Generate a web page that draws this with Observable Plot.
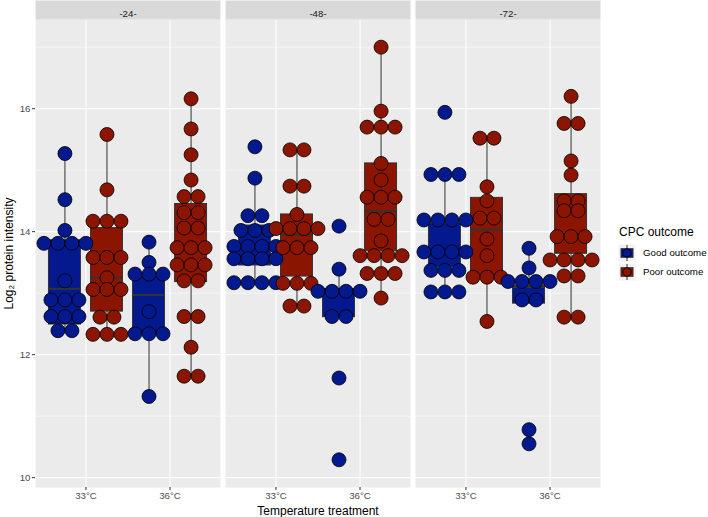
<!DOCTYPE html>
<html><head><meta charset="utf-8">
<script src="https://cdn.jsdelivr.net/npm/d3@7"></script>
<script src="https://cdn.jsdelivr.net/npm/@observablehq/plot@0.6"></script>
<style>
body{margin:0;background:#fff;}
#wrap{position:relative;width:708px;height:517px;font-family:"Liberation Sans",Arial,sans-serif;}
#legend{position:absolute;left:0;top:0;}
</style></head><body><div id="wrap"></div>
<script>
// ---------- categories ----------
const timepoints = ["-24-", "-48-", "-72-"];
const temps = ["33°C", "36°C"];
const outcomes = ["Good outcome", "Poor outcome"];
const colors = ["#03198D", "#8B1500"];
const yTicks = [10, 12, 14, 16];
const yMinor = [11, 13, 15, 17];

// ---------- dot values (log2 protein intensity, dot centres) ----------
const good24_33 = [15.27, 14.52, 14.02, 13.81, 13.81, 13.81, 13.81, 13.20, 12.89, 12.89, 12.89, 12.62, 12.62, 12.62, 12.39, 12.39];
const poor24_33 = [15.58, 14.68, 14.17, 14.17, 14.17, 13.58, 13.58, 13.58, 13.25, 13.06, 13.06, 13.06, 12.61, 12.61, 12.33, 12.33, 12.33];
const good24_36 = [13.83, 13.50, 13.31, 13.31, 13.31, 12.70, 12.34, 12.34, 12.34, 11.32];
const poor24_36 = [16.16, 15.67, 15.25, 14.84, 14.57, 14.57, 14.31, 14.31, 14.06, 14.06, 13.74, 13.74, 13.74, 13.46, 13.46, 13.46, 13.20, 13.20, 12.62, 12.62, 12.12, 11.65, 11.65];

const good48_33 = [15.38, 14.87, 14.26, 14.26, 14.02, 14.02, 14.02, 13.76, 13.76, 13.76, 13.76, 13.56, 13.56, 13.56, 13.56, 13.17, 13.17, 13.17, 13.17];
const poor48_33 = [15.33, 15.33, 14.74, 14.74, 14.28, 14.05, 14.05, 14.05, 14.05, 13.74, 13.74, 13.74, 13.16, 13.16, 13.16, 12.79, 12.79];
const good48_36 = [14.09, 13.39, 13.03, 13.03, 13.03, 13.03, 12.62, 12.62, 11.62, 10.29];
const poor48_36 = [17.00, 15.96, 15.70, 15.70, 15.70, 15.11, 14.84, 14.56, 14.56, 14.56, 14.20, 14.20, 13.85, 13.61, 13.61, 13.61, 13.61, 13.32, 13.32, 13.32, 12.92];

const good72_33 = [15.94, 14.93, 14.93, 14.93, 14.19, 14.19, 14.19, 14.19, 13.67, 13.67, 13.67, 13.67, 13.37, 13.37, 13.37, 13.02, 13.02, 13.02];
const poor72_33 = [15.52, 15.52, 14.73, 14.50, 14.22, 14.22, 13.88, 13.61, 13.26, 13.26, 13.26, 12.54];
const good72_36 = [13.73, 13.41, 13.19, 13.19, 13.19, 13.19, 12.89, 12.89, 10.78, 10.55];
const poor72_36 = [16.20, 15.76, 15.76, 15.15, 14.92, 14.50, 14.50, 14.34, 14.34, 13.92, 13.92, 13.92, 13.54, 13.54, 13.54, 13.54, 13.28, 13.28, 12.61, 12.61];

// ---------- box statistics: [lower whisker, Q1, median, Q3, upper whisker] ----------
const boxGood24_33 = [12.39, 12.49, 13.07, 13.86, 15.27];
const boxPoor24_33 = [12.33, 12.70, 13.25, 14.06, 15.58];
const boxGood24_36 = [11.32, 12.34, 12.97, 13.26, 13.83];
const boxPoor24_36 = [11.65, 13.18, 13.74, 14.45, 16.16];
const boxGood48_33 = [13.17, 13.45, 13.77, 14.10, 14.87];
const boxPoor48_33 = [12.79, 13.27, 13.95, 14.28, 15.33];
const boxGood48_36 = [12.61, 12.61, 13.03, 13.07, 13.39];
const boxPoor48_36 = [12.92, 13.68, 14.33, 15.11, 17.00];
const boxGood72_33 = [13.02, 13.42, 13.67, 14.13, 14.93];
const boxPoor72_33 = [12.54, 13.26, 14.03, 14.55, 15.52];
const boxGood72_36 = [12.83, 12.83, 13.10, 13.12, 13.73];
const boxPoor72_36 = [12.61, 13.64, 13.92, 14.61, 16.20];

const groups = [
  ["-24-", "33°C", "Good outcome", good24_33, boxGood24_33],
  ["-24-", "33°C", "Poor outcome", poor24_33, boxPoor24_33],
  ["-24-", "36°C", "Good outcome", good24_36, boxGood24_36],
  ["-24-", "36°C", "Poor outcome", poor24_36, boxPoor24_36],
  ["-48-", "33°C", "Good outcome", good48_33, boxGood48_33],
  ["-48-", "33°C", "Poor outcome", poor48_33, boxPoor48_33],
  ["-48-", "36°C", "Good outcome", good48_36, boxGood48_36],
  ["-48-", "36°C", "Poor outcome", poor48_36, boxPoor48_36],
  ["-72-", "33°C", "Good outcome", good72_33, boxGood72_33],
  ["-72-", "33°C", "Poor outcome", poor72_33, boxPoor72_33],
  ["-72-", "36°C", "Good outcome", good72_36, boxGood72_36],
  ["-72-", "36°C", "Poor outcome", poor72_36, boxPoor72_36]
];

// ---------- layout ----------
const W = 708, H = 517, mL = 34, mR = 108, mT = 19, mB = 30;
const gap = 5.5;
const step = (W - mL - mR + gap) / 3;
const pad = gap / step;
const facetW = step - gap;
const xDomain = [0.4, 2.6];
const pxPerUnit = facetW / (xDomain[1] - xDomain[0]);
const dotR = 7;
const dotStep = (2 * dotR) / pxPerUnit;
const dodge = 0.25, boxHalf = 0.19;

const dots = [], boxes = [];
for (const [time, temp, outcome, values, st] of groups) {
  const center = temps.indexOf(temp) + 1 + (outcomes.indexOf(outcome) === 0 ? -dodge : dodge);
  boxes.push({time, outcome, center, x1: center - boxHalf, x2: center + boxHalf,
    lo: st[0], q1: st[1], med: st[2], q3: st[3], hi: st[4]});
  for (const [v, arr] of d3.groups(values, d => d)) {
    arr.forEach((_, i) => dots.push({time, outcome, value: v,
      x: center + (i - (arr.length - 1) / 2) * dotStep}));
  }
}

const chart = Plot.plot({
  width: W, height: H,
  marginLeft: mL, marginRight: mR, marginTop: mT, marginBottom: mB,
  style: {fontFamily: "'Liberation Sans', Arial, sans-serif", fontSize: "9.7px", background: "white", overflow: "visible"},
  fx: {domain: timepoints, paddingInner: pad, paddingOuter: 0},
  x: {domain: xDomain},
  y: {domain: [9.84, 17.45]},
  color: {domain: outcomes, range: colors},
  marks: [
    Plot.frame({fill: "#ebebeb"}),
    Plot.ruleY(yMinor, {stroke: "white", strokeWidth: 0.55}),
    Plot.ruleY(yTicks, {stroke: "white", strokeWidth: 1.1}),
    Plot.ruleX([1, 2], {stroke: "white", strokeWidth: 1.1}),
    Plot.frame({fill: "#d9d9d9", insetTop: -mT, insetBottom: H - mT - mB}),
    Plot.text(timepoints, {fx: d => d, text: d => d, frameAnchor: "top", dy: -9.5, fontSize: 9.7, fill: "#1a1a1a"}),
    Plot.ruleX(boxes, {fx: "time", x: "center", y1: "lo", y2: "hi", stroke: "#333", strokeWidth: 1}),
    Plot.rect(boxes, {fx: "time", x1: "x1", x2: "x2", y1: "q1", y2: "q3", fill: "outcome", stroke: "#333", strokeWidth: 1}),
    Plot.ruleY(boxes, {fx: "time", y: "med", x1: "x1", x2: "x2", stroke: "#333", strokeWidth: 2}),
    Plot.dot(dots, {fx: "time", x: "x", y: "value", r: dotR, fill: "outcome", stroke: "black", strokeWidth: 0.8}),
    Plot.axisY({ticks: yTicks, tickSize: 3, tickPadding: 2, stroke: "#333", fill: "#4d4d4d", fontSize: 9.7,
      label: "Log₂ protein intensity", labelAnchor: "center", labelArrow: "none", labelOffset: 31}),
    Plot.axisX({ticks: [1, 2], tickFormat: i => temps[i - 1], tickSize: 3, tickPadding: 2, stroke: "#333", fill: "#4d4d4d", fontSize: 9.7, label: null}),
    Plot.axisFx({anchor: "bottom", tickSize: 0, tickFormat: () => "", label: "Temperature treatment",
      labelAnchor: "center", labelArrow: "none", labelOffset: 27, fontSize: 12, fill: "black"})
  ]
});
document.getElementById("wrap").appendChild(chart);
d3.select(chart).selectAll('[aria-label="y-axis label"] text, [aria-label="y-axis label"]').attr("fill", "black").style("font-size", "12px");

// ---------- legend ----------
const lg = d3.select("#wrap").append("svg").attr("id", "legend").attr("width", W).attr("height", H)
  .style("font-family", "'Liberation Sans', Arial, sans-serif");
lg.append("text").attr("x", 619).attr("y", 236).attr("font-size", 12).text("CPC outcome");
outcomes.forEach((o, i) => {
  const cy = 253 + i * 19, cx = 627;
  lg.append("rect").attr("x", cx - 8.6).attr("y", cy - 8.6).attr("width", 17.2).attr("height", 17.2).attr("fill", "#f2f2f2");
  lg.append("line").attr("x1", cx).attr("x2", cx).attr("y1", cy - 8).attr("y2", cy + 8).attr("stroke", "#333");
  lg.append("rect").attr("x", cx - 6).attr("y", cy - 4.3).attr("width", 12).attr("height", 8.6).attr("fill", colors[i]).attr("stroke", "#333");
  lg.append("circle").attr("cx", cx).attr("cy", cy).attr("r", 4.2).attr("fill", colors[i]).attr("stroke", "black").attr("stroke-width", 0.8);
  lg.append("text").attr("x", 643).attr("y", cy + 3.4).attr("font-size", 9.7).text(o);
});
</script></body></html>
